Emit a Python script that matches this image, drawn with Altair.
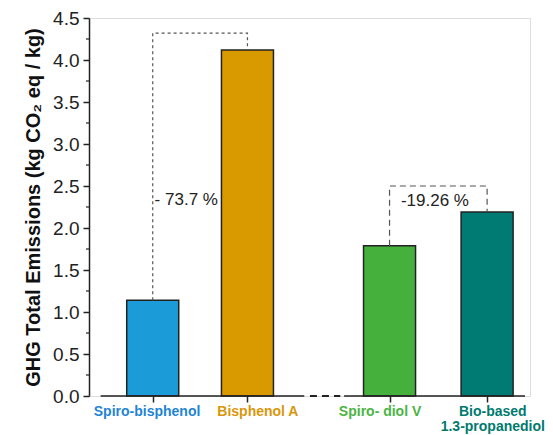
import altair as alt
import pandas as pd

# Data
categories = ["Spiro-bisphenol", "Bisphenol A", "Spiro- diol V", "Bio-based\n1.3-propanediol"]
positions = [1, 2, 3.5, 4.53]
label_positions = [0.94, 2.11, 3.40, 4.59]
values = [1.14, 4.12, 1.79, 2.19]
bar_colors = ["#1b9bd8", "#d99a00", "#45b03c", "#007b74"]
label_colors = ["#1f84d4", "#d9960a", "#4bb544", "#007a6e"]

pct_labels = ["- 73.7 %", "-19.26 %"]
pct_x = [1.02, 3.62]
pct_y = [2.33, 2.32]

bracket_id = [0, 0, 0, 0, 1, 1, 1, 1]
bracket_order = [0, 1, 2, 3, 0, 1, 2, 3]
bracket_x = [1, 1, 2, 2, 3.5, 3.5, 4.53, 4.53]
bracket_y = [1.14, 4.32, 4.32, 4.12, 1.79, 2.5, 2.5, 2.19]

major_ticks = [0, 0.5, 1.0, 1.5, 2.0, 2.5, 3.0, 3.5, 4.0, 4.5]
minor_ticks = [0.25, 0.75, 1.25, 1.75, 2.25, 2.75, 3.25, 3.75, 4.25]

axis_solid = [(0.45, 2.6), (3.02, 4.93)]
axis_dashed = [(2.66, 2.98)]

FONT = "Liberation Sans"
W, H = 441, 378

xscale = alt.Scale(domain=[0.38, 4.93], nice=False, zero=False)
yscale = alt.Scale(domain=[0, 4.5], nice=False)

bars_df = pd.DataFrame({"cat": categories, "pos": positions, "lpos": label_positions,
                        "val": values, "bc": bar_colors, "lc": label_colors})

bars = alt.Chart(bars_df).mark_bar(size=52, stroke="#222222", strokeWidth=1.5).encode(
    x=alt.X("pos:Q", scale=xscale,
            axis=alt.Axis(values=positions, labels=False, title=None, domain=False,
                          grid=False, tickSize=6, tickColor="#222222", tickWidth=1.5)),
    y=alt.Y("val:Q", scale=yscale,
            axis=alt.Axis(values=major_ticks, format=".1f", grid=False,
                          title="GHG Total Emissions (kg CO₂ eq / kg)",
                          titleFont=FONT, titleFontSize=20, titleFontWeight="bold",
                          titleColor="#111111", titlePadding=9,
                          labelFont=FONT, labelFontSize=19, labelColor="#222222",
                          labelPadding=4, tickSize=6, tickWidth=1.5, tickColor="#222222",
                          domainColor="#222222", domainWidth=1.5)),
    color=alt.Color("bc:N", scale=None),
)

cat_labels = alt.Chart(bars_df).mark_text(
    font=FONT, fontSize=14, fontWeight="bold", baseline="top", align="center",
    lineBreak="\n", lineHeight=15
).encode(
    x=alt.X("lpos:Q", scale=xscale),
    y=alt.value(H + 9),
    text="cat:N",
    color=alt.Color("lc:N", scale=None),
)

br_df = pd.DataFrame({"id": bracket_id, "o": bracket_order, "x": bracket_x, "y": bracket_y})
br1 = alt.Chart(br_df[br_df.id == 0]).mark_line(
    color="#555555", strokeWidth=1.2, strokeDash=[3, 3]
).encode(x=alt.X("x:Q", scale=xscale), y=alt.Y("y:Q", scale=yscale), order="o:Q")
br2 = alt.Chart(br_df[br_df.id == 1]).mark_line(
    color="#555555", strokeWidth=1.2, strokeDash=[6, 4]
).encode(x=alt.X("x:Q", scale=xscale), y=alt.Y("y:Q", scale=yscale), order="o:Q")

pct_df = pd.DataFrame({"t": pct_labels, "x": pct_x, "y": pct_y})
pct = alt.Chart(pct_df).mark_text(
    font=FONT, fontSize=17, align="left", baseline="middle", color="#222222"
).encode(x=alt.X("x:Q", scale=xscale), y=alt.Y("y:Q", scale=yscale), text="t:N")

solid_df = pd.DataFrame({"a": [s[0] for s in axis_solid], "b": [s[1] for s in axis_solid], "y": 0})
dash_df = pd.DataFrame({"a": [s[0] for s in axis_dashed], "b": [s[1] for s in axis_dashed], "y": 0})
axis_solid_m = alt.Chart(solid_df).mark_rule(color="#222222", strokeWidth=1.5).encode(
    x=alt.X("a:Q", scale=xscale), x2="b:Q", y=alt.Y("y:Q", scale=yscale))
axis_dash_m = alt.Chart(dash_df).mark_rule(color="#222222", strokeWidth=2, strokeDash=[7, 5]).encode(
    x=alt.X("a:Q", scale=xscale), x2="b:Q", y=alt.Y("y:Q", scale=yscale))

minor_df = pd.DataFrame({"y": minor_ticks})
minor = alt.Chart(minor_df).mark_rule(color="#222222", strokeWidth=1.2).encode(
    x=alt.value(0), x2=alt.value(-3), y=alt.Y("y:Q", scale=yscale))

chart = alt.layer(
    bars, br1, br2, pct, axis_solid_m, axis_dash_m, minor, cat_labels
).properties(
    width=W, height=H,
    autosize=alt.AutoSizeParams(type="none"),
    padding={"left": 81, "top": 10, "right": 15, "bottom": 39},
).configure_view(stroke=None).configure(background="white")

chart.save("out.html", embed_options={"renderer": "svg", "actions": False})
